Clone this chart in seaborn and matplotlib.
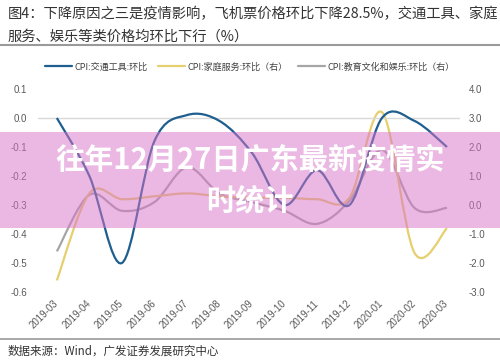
import numpy as np
import matplotlib
matplotlib.use('Agg')
import matplotlib.pyplot as plt
import seaborn as sns
from matplotlib.path import Path
from matplotlib.patches import PathPatch, Rectangle
from matplotlib.lines import Line2D

# ----------------------- Data -----------------------
months = ['2019-03', '2019-04', '2019-05', '2019-06', '2019-07', '2019-08', '2019-09',
          '2019-10', '2019-11', '2019-12', '2020-01', '2020-02', '2020-03']
transport = [0.0, -0.2, -0.5, -0.08, 0.01, -0.01, -0.12, -0.3, -0.18, -0.3, 0.0, -0.01, -0.1]
household = [-2.6, 0.4, 0.2, 0.3, 0.4, 0.3, 0.25, 0.25, 0.2, 0.25, 3.2, -1.65, -0.8]
education = [-1.6, 0.35, -0.2, 0.1, 1.3, 0.4, 0.1, -0.2, -0.65, 0.15, 1.9, -0.1, -0.1]

left_ticks = [-0.6, -0.5, -0.4, -0.3, -0.2, -0.1, 0.0, 0.1]
right_ticks = [-3.0, -2.0, -1.0, 0.0, 1.0, 2.0, 3.0, 4.0]

labels = ['CPI:交通工具:环比', 'CPI:家庭服务:环比（右）', 'CPI:教育文化和娱乐:环比（右）']
colors = ['#1f5f8f', '#e6cf6e', '#a6a6a6']


def smooth_path(xs, ys):
    # Excel-like smoothed line: Catmull-Rom segments as cubic Bezier
    pts = np.column_stack([xs, ys]).astype(float)
    ext = np.vstack([pts[0], pts, pts[-1]])
    verts = [pts[0]]
    codes = [Path.MOVETO]
    for i in range(1, len(ext) - 2):
        p0, p1, p2, p3 = ext[i - 1], ext[i], ext[i + 1], ext[i + 2]
        verts += [p1 + (p2 - p0) / 6, p2 - (p3 - p1) / 6, p2]
        codes += [Path.CURVE4] * 3
    return Path(verts, codes)


sns.set_theme(style='white')
plt.rcParams['font.family'] = ['Noto Sans CJK SC', 'DejaVu Sans']
plt.rcParams['axes.unicode_minus'] = False

fig = plt.figure(figsize=(5, 3.61), dpi=100)
fig.patch.set_facecolor('white')
ax = fig.add_axes([38 / 500, 1 - 292 / 361, 422 / 500, 203 / 361])
ax2 = ax.twinx()

x = np.arange(len(months))
ax.axhline(0, color='#d9d9d9', lw=1, zorder=1)
ax2.add_patch(PathPatch(smooth_path(x, education), fill=False, ec=colors[2], lw=1.6, zorder=2))
ax2.add_patch(PathPatch(smooth_path(x, household), fill=False, ec=colors[1], lw=1.6, zorder=3))
ax.add_patch(PathPatch(smooth_path(x, transport), fill=False, ec=colors[0], lw=1.6, zorder=4))
ax.set_zorder(ax2.get_zorder() + 1)
ax.patch.set_visible(False)

ax.set_xlim(-0.58, 12.4)
ax.set_ylim(-0.6, 0.1)
ax2.set_ylim(-3.0, 4.0)
ax.set_yticks(left_ticks)
ax.set_yticklabels([f'{v:.1f}' for v in left_ticks])
ax2.set_yticks(right_ticks)
ax2.set_yticklabels([f'{v:.1f}' for v in right_ticks])
ax.set_xticks(x)
ax.set_xticklabels(months, rotation=45, ha='right', va='center', rotation_mode='anchor')

for a in (ax, ax2):
    for s in a.spines.values():
        s.set_visible(False)
    a.grid(False)
ax.tick_params(axis='y', length=0, pad=8, labelsize=7, labelcolor='#595959')
ax2.tick_params(axis='y', length=0, pad=6, labelsize=7, labelcolor='#595959')
ax.tick_params(axis='x', length=0, pad=7, labelsize=7, labelcolor='#595959')
for t in ax.get_xticklabels() + ax.get_yticklabels() + ax2.get_yticklabels():
    t.set_fontfamily('Liberation Sans')

handles = [Line2D([], [], color=c, lw=1.6) for c in colors]
leg = fig.legend(handles, labels, loc='center', bbox_to_anchor=(0.5, 1 - 67 / 361), ncol=3,
                 frameon=False, fontsize=6.5, handlelength=3, handletextpad=0.3, columnspacing=1.1)
for t in leg.get_texts():
    t.set_color('#404040')

# ----------------------- Header and footer -----------------------
fig.text(8 / 500, 1 - 14 / 361, '图4：下降原因之三是疫情影响，飞机票价格环比下降28.5%，交通工具、家庭',
         fontsize=10.3, color='#333333', va='center', ha='left')
fig.text(8 / 500, 1 - 37 / 361, '服务、娱乐等类价格均环比下行（%）',
         fontsize=10.3, color='#333333', va='center', ha='left')
fig.add_artist(Line2D([0, 1], [1 - 45 / 361] * 2, color='#9a9a9a', lw=1.5, transform=fig.transFigure))
fig.add_artist(Line2D([0, 1], [1 - 339 / 361] * 2, color='#9a9a9a', lw=1.2, transform=fig.transFigure))
fig.text(8 / 500, 1 - 351 / 361, '数据来源：Wind，广发证券发展研究中心',
         fontsize=8.3, color='#333333', va='center', ha='left')

# ----------------------- Pink overlay banner -----------------------
fig.add_artist(Rectangle((0, 1 - 228 / 361), 1, 96 / 361, transform=fig.transFigure,
                         facecolor=(217 / 255, 115 / 255, 201 / 255), alpha=0.5, lw=0, zorder=10))
fig.text(0.5, 1 - 160 / 361, '往年12月27日广东最新疫情实', fontsize=21, fontweight='bold',
         color='white', ha='center', va='center', zorder=11)
fig.text(0.5, 1 - 200 / 361, '时统计', fontsize=21, fontweight='bold',
         color='white', ha='center', va='center', zorder=11)

fig.savefig('out.png', dpi=100)
